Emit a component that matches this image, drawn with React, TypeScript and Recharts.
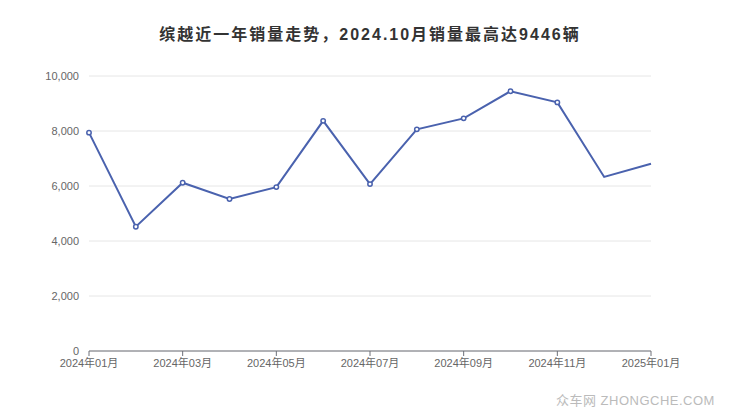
import React from 'react';
import { LineChart, Line, XAxis, YAxis, CartesianGrid } from 'recharts';

const months = [
  '2024年01月', '2024年02月', '2024年03月', '2024年04月', '2024年05月', '2024年06月', '2024年07月',
  '2024年08月', '2024年09月', '2024年10月', '2024年11月', '2024年12月', '2025年01月',
];
const sales = [7940, 4520, 6120, 5530, 5960, 8370, 6070, 8060, 8460, 9446, 9040, 6330, 6810];
const yTicks = [0, 2000, 4000, 6000, 8000, 10000];

const data = months.map((month, i) => ({ month, sales: sales[i] }));

const font = '"Liberation Sans", "Noto Sans CJK SC", sans-serif';
const lineColor = '#4a62ae';

// the last two points have no marker in the original
const renderDot = (props: any) => {
  const { cx, cy, index } = props;
  if (index >= sales.length - 2) return <g key={`d-${index}`} />;
  return <circle key={`d-${index}`} cx={cx} cy={cy} r={2.2} fill="#fff" stroke={lineColor} strokeWidth={1.5} />;
};

export default function App() {
  return (
    <div style={{ position: 'absolute', left: 0, top: 0, width: 740, height: 417, background: '#fff', fontFamily: font }}>
      <div style={{ position: 'absolute', top: 21, width: 740, textAlign: 'center', fontSize: 16, fontWeight: 'bold', color: '#333', letterSpacing: 2 }}>
        缤越近一年销量走势，2024.10月销量最高达9446辆
      </div>
      <LineChart width={740} height={417} data={data} margin={{ top: 76, right: 89, bottom: 36, left: 0 }}>
        <CartesianGrid vertical={false} stroke="#e6e6e6" />
        <XAxis
          dataKey="month"
          interval={1}
          tick={{ fontSize: 11, fill: '#666', fontFamily: font }}
          tickSize={5}
          tickMargin={3}
          stroke="#6e7079"
          height={30}
        />
        <YAxis
          width={89}
          domain={[0, 10000]}
          ticks={yTicks}
          tickFormatter={(v: number) => v.toLocaleString('en-US')}
          tick={{ fontSize: 11, fill: '#666', fontFamily: font }}
          axisLine={false}
          tickLine={false}
          tickMargin={4}
        />
        <Line
          type="linear"
          dataKey="sales"
          stroke={lineColor}
          strokeWidth={2}
          dot={renderDot}
          activeDot={false}
          isAnimationActive={false}
        />
      </LineChart>
      <div style={{ position: 'absolute', left: 556, top: 390, fontSize: 13, color: '#bbb', letterSpacing: 0.5 }}>
        众车网 ZHONGCHE.COM
      </div>
    </div>
  );
}
